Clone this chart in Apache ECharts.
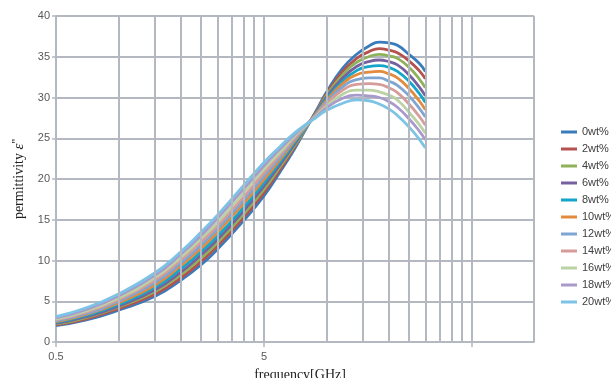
<!DOCTYPE html>
<html>
<head>
<meta charset="utf-8">
<script src="https://cdn.jsdelivr.net/npm/echarts@6/dist/echarts.min.js"></script>
<style>
  html, body { margin: 0; padding: 0; background: #fff; }
  #chart { width: 611px; height: 378px; }
</style>
</head>
<body>
<div id="chart"></div>
<script>
// Frequencies (GHz) at which the loss factor was sampled
const freqs = [0.5, 0.7, 1, 1.5, 2, 2.5, 3, 4, 5, 6, 7, 8, 9, 10, 12, 14, 16, 18, 20, 22, 25, 28, 30];

// Dielectric loss ε'' for each concentration
const wt0  = [2.0, 2.7, 3.9, 5.6, 7.6, 9.5, 11.4, 14.9, 17.9, 20.9, 23.6, 26.2, 28.5, 30.6, 33.6, 35.3, 36.3, 36.8, 36.7, 36.4, 35.3, 34.2, 33.2];
const wt2  = [2.1, 2.85, 4.1, 5.9, 7.9, 9.9, 11.8, 15.3, 18.3, 21.2, 23.8, 26.3, 28.4, 30.4, 33.2, 34.8, 35.6, 36.0, 35.8, 35.5, 34.5, 33.3, 32.3];
const wt4  = [2.2, 3.0, 4.3, 6.2, 8.3, 10.3, 12.2, 15.7, 18.7, 21.5, 24.0, 26.3, 28.3, 30.2, 32.8, 34.3, 35.0, 35.3, 35.1, 34.8, 33.7, 32.3, 31.2];
const wt6  = [2.3, 3.1, 4.4, 6.4, 8.6, 10.7, 12.6, 16.1, 19.1, 21.8, 24.2, 26.4, 28.3, 30.0, 32.4, 33.8, 34.4, 34.6, 34.4, 34.0, 32.8, 31.3, 30.2];
const wt8  = [2.4, 3.25, 4.6, 6.7, 9.0, 11.1, 13.0, 16.5, 19.5, 22.1, 24.4, 26.4, 28.2, 29.8, 32.0, 33.3, 33.8, 33.9, 33.7, 33.2, 32.0, 30.5, 29.4];
const wt10 = [2.5, 3.4, 4.8, 7.0, 9.4, 11.5, 13.5, 17.0, 19.9, 22.4, 24.6, 26.5, 28.1, 29.6, 31.7, 32.8, 33.1, 33.2, 32.9, 32.4, 31.1, 29.6, 28.5];
const wt12 = [2.6, 3.5, 5.0, 7.3, 9.7, 11.9, 13.9, 17.4, 20.3, 22.7, 24.8, 26.5, 28.0, 29.4, 31.3, 32.2, 32.4, 32.4, 32.0, 31.5, 30.2, 28.7, 27.6];
const wt14 = [2.7, 3.65, 5.2, 7.6, 10.1, 12.3, 14.3, 17.8, 20.7, 23.0, 25.0, 26.6, 27.9, 29.2, 30.9, 31.6, 31.7, 31.6, 31.2, 30.6, 29.2, 27.7, 26.6];
const wt16 = [2.8, 3.8, 5.4, 7.9, 10.4, 12.7, 14.7, 18.3, 21.2, 23.3, 25.2, 26.6, 27.8, 28.9, 30.4, 30.9, 30.9, 30.7, 30.3, 29.7, 28.2, 26.7, 25.6];
const wt18 = [2.95, 4.0, 5.65, 8.2, 10.8, 13.1, 15.2, 18.8, 21.6, 23.7, 25.4, 26.7, 27.7, 28.7, 29.9, 30.3, 30.2, 30.0, 29.5, 28.8, 27.4, 25.9, 24.8];
const wt20 = [3.1, 4.2, 5.9, 8.5, 11.1, 13.5, 15.6, 19.2, 22.0, 24.0, 25.6, 26.7, 27.6, 28.4, 29.3, 29.7, 29.6, 29.2, 28.6, 27.8, 26.4, 24.9, 23.8];

const seriesNames = ['0wt%', '2wt%', '4wt%', '6wt%', '8wt%', '10wt%', '12wt%', '14wt%', '16wt%', '18wt%', '20wt%'];
const seriesValues = [wt0, wt2, wt4, wt6, wt8, wt10, wt12, wt14, wt16, wt18, wt20];
const seriesColors = ['#3A7CBB', '#B5524F', '#8FB15A', '#76619E', '#13A6C9', '#E28B3E',
                      '#7FA5D3', '#D69C99', '#BBD2A4', '#A89BCB', '#7CC3E6'];

// Axis range and the minor (linear-step) gridlines of the log frequency axis
const xMin = 0.5, xMax = 100;
const yMin = 0, yMax = 40, yStep = 5;
const minorGrid = [1, 1.5, 2, 2.5, 3, 3.5, 4, 4.5, 10, 15, 20, 25, 30, 35, 40, 45];
const xLabelsShown = [0.5, 5];

const gridColor = '#B3B8C1';

const chart = echarts.init(document.getElementById('chart'), null, { renderer: 'canvas' });

const lineSeries = seriesNames.map((name, k) => ({
  name: name,
  type: 'line',
  data: freqs.map((f, i) => [f, seriesValues[k][i]]),
  showSymbol: false,
  symbol: 'none',
  smooth: 0.5,
  z: 3,
  lineStyle: { width: 2.8, color: seriesColors[k] },
  itemStyle: { color: seriesColors[k] }
}));

// Carrier for the minor vertical gridlines, drawn beneath the curves
const gridSeries = {
  name: '_grid',
  type: 'line',
  data: [],
  z: 1,
  silent: true,
  markLine: {
    silent: true,
    symbol: ['none', 'none'],
    label: { show: false },
    lineStyle: { color: gridColor, width: 2, type: 'solid' },
    emphasis: { disabled: true },
    animation: false,
    data: minorGrid.map(v => ({ xAxis: v }))
  }
};

// Tick values on the log axis may carry rounding; match them to the nominal labels
function nominalLabel(v) {
  for (const c of xLabelsShown) {
    if (Math.abs(Math.log10(v / c)) < 0.01) return String(c);
  }
  return '';
}

const option = {
  animation: false,
  backgroundColor: '#ffffff',
  grid: { left: 56, right: 77, top: 16, bottom: 36, containLabel: false, outerBoundsMode: 'none' },
  legend: {
    orient: 'vertical',
    left: 561,
    top: 125,
    padding: 0,
    icon: 'rect',
    itemWidth: 16,
    itemHeight: 3,
    itemGap: 3,
    data: seriesNames,
    textStyle: { fontFamily: 'Liberation Sans', fontSize: 11, color: '#404040', lineHeight: 14 }
  },
  xAxis: {
    type: 'log',
    logBase: 10,
    min: xMin,
    max: xMax,
    interval: 1,
    name: 'frequency[GHz]',
    nameLocation: 'middle',
    nameGap: 26,
    nameTextStyle: { fontFamily: 'Liberation Serif', fontSize: 14, color: '#222', padding: [0, 0, 0, 10] },
    axisLine: { show: true, lineStyle: { color: gridColor, width: 2 } },
    axisTick: { show: true, inside: false, length: 5, lineStyle: { color: gridColor, width: 1.5 } },
    axisLabel: {
      margin: 9,
      fontFamily: 'Liberation Sans',
      fontSize: 11,
      color: '#595959',
      showMaxLabel: false,
      formatter: nominalLabel
    },
    splitLine: { show: true, lineStyle: { color: gridColor, width: 2 } }
  },
  yAxis: {
    type: 'value',
    min: yMin,
    max: yMax,
    interval: yStep,
    name: "permittivity {i|ε}{s|''}",
    nameLocation: 'middle',
    nameGap: 20,
    nameTextStyle: {
      fontFamily: 'Liberation Serif', fontSize: 14, color: '#222',
      rich: {
        i: { fontFamily: 'Liberation Serif', fontStyle: 'italic', fontSize: 15, color: '#222' },
        s: { fontFamily: 'Liberation Serif', fontSize: 13, color: '#222', padding: [0, 0, 5, 0] }
      }
    },
    axisLine: { show: true, lineStyle: { color: gridColor, width: 2 } },
    axisTick: { show: true, inside: false, length: 4, lineStyle: { color: gridColor, width: 1.5 } },
    axisLabel: { margin: 6, fontFamily: 'Liberation Sans', fontSize: 11, color: '#595959' },
    splitLine: { show: true, lineStyle: { color: gridColor, width: 2 } }
  },
  series: [gridSeries].concat(lineSeries)
};

chart.setOption(option);
</script>
</body>
</html>
